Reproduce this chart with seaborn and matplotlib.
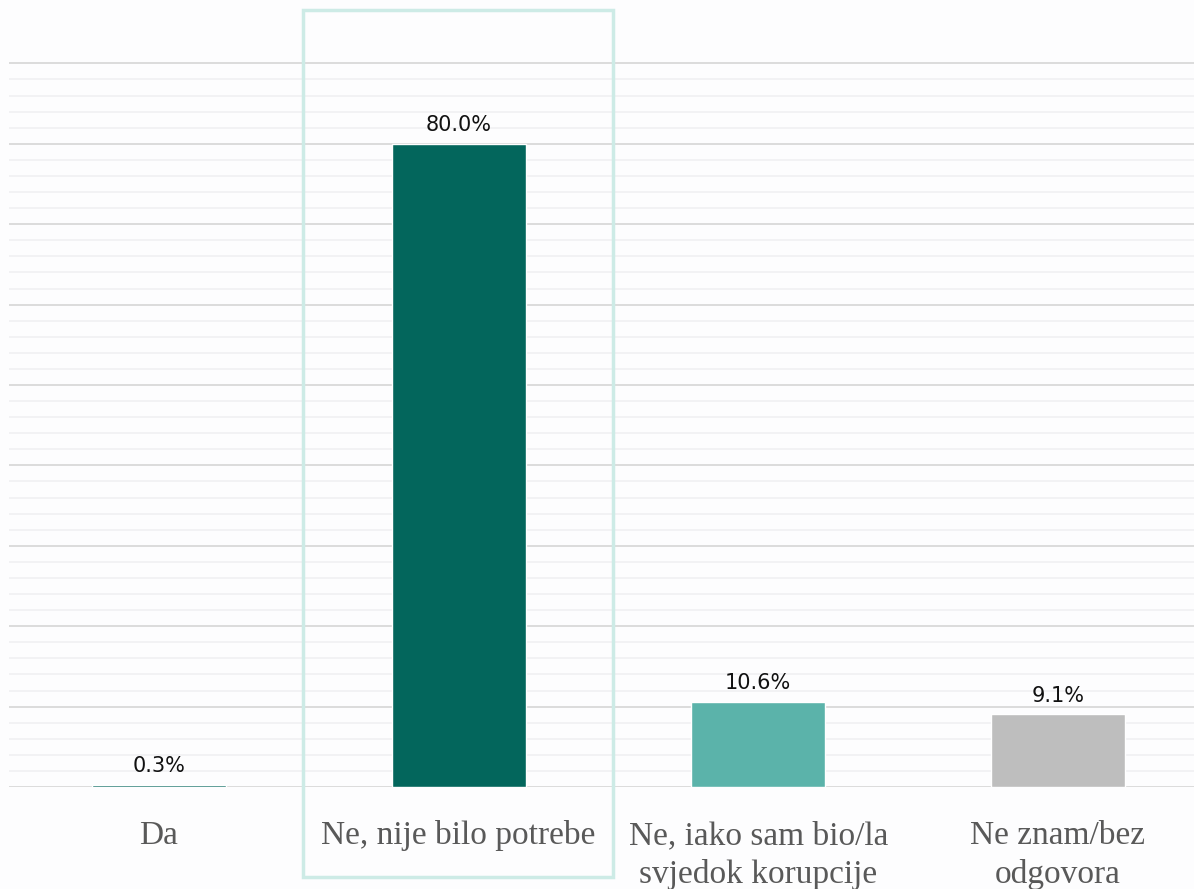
import matplotlib
matplotlib.use("Agg")
import matplotlib.pyplot as plt
import seaborn as sns
import pandas as pd
from matplotlib.patches import Rectangle

categories = ["Da", "Ne, nije bilo potrebe", "Ne, iako sam bio/la\nsvjedok korupcije", "Ne znam/bez\nodgovora"]
values = [0.3, 80.0, 10.6, 9.1]
colors = ["#03665C", "#03665C", "#5BB3AA", "#BEBEBE"]

sns.set_theme(style="white")
W, H = 1194, 889
fig = plt.figure(figsize=(W / 100, H / 100), dpi=100, facecolor="#FDFDFE")
ax = fig.add_axes([9 / W, (H - 787) / H, 1 - 9 / W, 787 / H])
ax.set_facecolor("none")

df = pd.DataFrame({"cat": categories, "val": values})
sns.barplot(data=df, x="cat", y="val", hue="cat", palette=colors, legend=False,
            width=0.447, ax=ax, saturation=1, zorder=3)

ax.set_ylim(0, 787 / 8.04)
ax.set_xlim(-0.5, -0.5 + (W - 9) / 299.7)
ax.set_yticks([t for t in range(0, 91, 10)])
ax.set_yticks([t for t in range(0, 91, 2) if t % 10], minor=True)
ax.grid(axis="y", which="major", color="#D9D9D9", linewidth=1.3, zorder=1)
ax.grid(axis="y", which="minor", color="#F0F0F2", linewidth=1.2, zorder=1)
ax.tick_params(axis="y", which="both", left=False, labelleft=False)
ax.tick_params(axis="x", length=0, pad=24)
for s in ax.spines.values():
    s.set_visible(False)
ax.set_xlabel("")
ax.set_ylabel("")
for lbl in ax.get_xticklabels():
    lbl.set_fontfamily("Liberation Serif")
    lbl.set_fontsize(24)
    lbl.set_color("#595959")
    lbl.set_va("top")
    lbl.set_linespacing(1.32)

for c in ax.containers:
    ax.bar_label(c, fmt="%.1f%%", padding=6, fontsize=15, color="#111111",
                 fontfamily="DejaVu Sans")

# highlight frame around second category
rect = Rectangle((303 / W, (H - 877) / H), (613 - 303) / W, (877 - 10) / H,
                 transform=fig.transFigure, fill=False, edgecolor="#CDEBE6",
                 linewidth=2.5, zorder=5)
fig.add_artist(rect)

fig.savefig("out.png", dpi=100, facecolor=fig.get_facecolor())
